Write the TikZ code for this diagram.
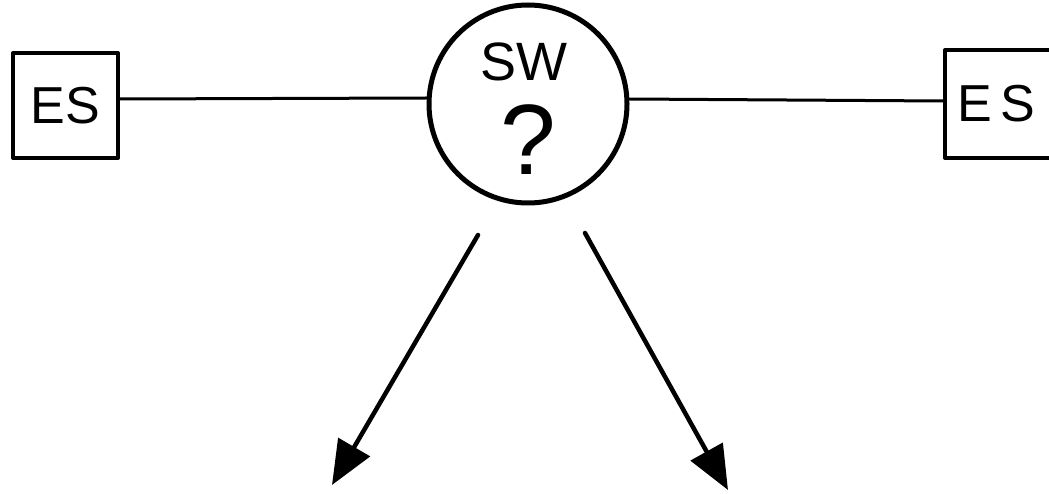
\documentclass[tikz,border=0pt]{standalone}
\usepackage{fontspec}
\setmainfont{Liberation Sans}
\usetikzlibrary{arrows.meta}
\begin{document}
\begin{tikzpicture}[x=1pt,y=-1pt,
  line width=4pt, line cap=round, line join=round,
  esbox/.style={draw, minimum width=105pt, minimum height=105pt, inner sep=0pt},
  estext/.style={font=\fontsize{52}{52}\selectfont},
  tighttext/.style={inner sep=0pt, text height=0.74em, text depth=0pt, anchor=base},
  swcircle/.style={draw, circle, line width=5pt, minimum size=198pt, inner sep=0pt},
  wire/.style={line width=3pt},
  bigarrow/.style={line width=4.5pt, -{Triangle[length=44pt,width=36pt]}}]
\useasboundingbox (0,0) rectangle (1049,494);
\clip (0,0) rectangle (1049,494);
\node[esbox, estext] (es1) at (65.5,105.5) {ES};
\node[esbox, minimum width=115pt, minimum height=108pt] (es2) at (1002.5,104) {};
\node[estext, anchor=west] (es2t) at (952,104) {E\,S};
\node[swcircle] (sw) at (528,104) {};
\node[tighttext, font=\fontsize{54}{54}\selectfont] (swt) at (524,81) {SW};
\node[tighttext, font=\fontsize{100}{100}\selectfont] (q) at (528,175) {?};
\draw[wire] (es1.east |- 0,99) -- (sw.west |- 0,98);
\draw[wire] (sw.east |- 0,99) -- (es2.west |- 0,101);
\coordinate (a1s) at (478,235);
\coordinate (a1e) at (332,485);
\coordinate (a2s) at (585,233);
\coordinate (a2e) at (728,490);
\draw[bigarrow] (a1s) -- (a1e);
\draw[bigarrow] (a2s) -- (a2e);
\end{tikzpicture}
\end{document}
